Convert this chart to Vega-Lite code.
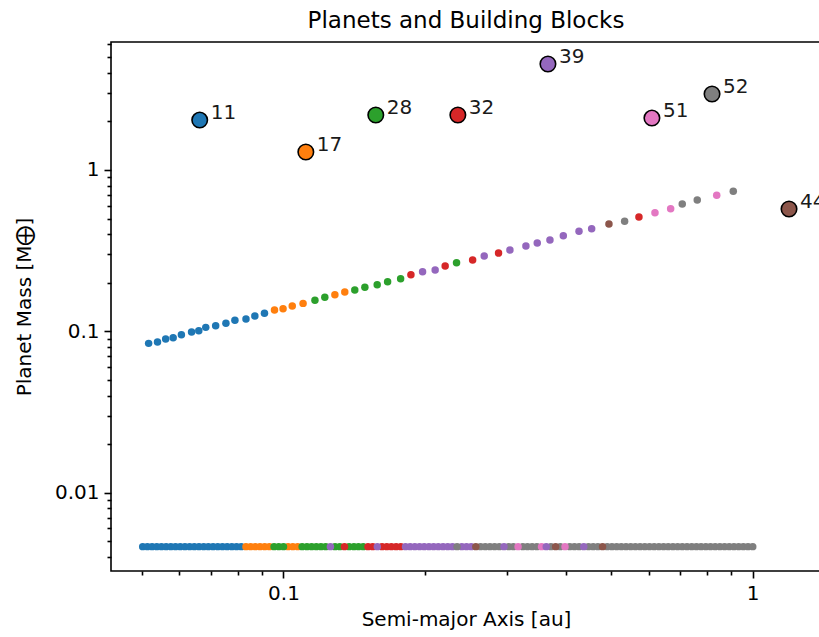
{
  "$schema": "https://vega.github.io/schema/vega-lite/v6.json",
  "autosize": {"type": "none"},
  "padding": {"left": 111, "top": 42, "right": 0, "bottom": 66},
  "width": 710,
  "height": 529,
  "background": "white",
  "title": {"text": "Planets and Building Blocks", "fontSize": 23, "font": "DejaVu Sans", "fontWeight": "normal", "color": "black", "anchor": "middle", "baseline": "alphabetic", "offset": 14, "dy": 31},
  "config": {
    "font": "DejaVu Sans",
    "view": {"stroke": "black", "strokeWidth": 1.6},
    "axis": {"grid": false, "domain": false, "tickColor": "black", "tickWidth": 1.6, "labelColor": "black", "labelFontSize": 20, "labelFont": "DejaVu Sans", "titleFont": "DejaVu Sans", "titleFontSize": 20, "titleFontWeight": "normal", "titleColor": "black", "labelPadding": 5}
  },
  "datasets": {
    "bottom": [
      {"a": 0.05012, "m": 0.00463, "p": "11"}, {"a": 0.05129, "m": 0.00463, "p": "11"}, {"a": 0.05248, "m": 0.00463, "p": "11"}, {"a": 0.0537, "m": 0.00463, "p": "11"}, {"a": 0.05495, "m": 0.00463, "p": "11"}, {"a": 0.05623, "m": 0.00463, "p": "11"}, {"a": 0.05754, "m": 0.00463, "p": "11"}, {"a": 0.05888, "m": 0.00463, "p": "11"}, {"a": 0.06026, "m": 0.00463, "p": "11"}, {"a": 0.06166, "m": 0.00463, "p": "11"}, {"a": 0.0631, "m": 0.00463, "p": "11"}, {"a": 0.06457, "m": 0.00463, "p": "11"}, {"a": 0.06607, "m": 0.00463, "p": "11"}, {"a": 0.06761, "m": 0.00463, "p": "11"}, {"a": 0.06918, "m": 0.00463, "p": "11"}, {"a": 0.07079, "m": 0.00463, "p": "11"}, {"a": 0.07244, "m": 0.00463, "p": "11"}, {"a": 0.07413, "m": 0.00463, "p": "11"}, {"a": 0.07586, "m": 0.00463, "p": "11"}, {"a": 0.07762, "m": 0.00463, "p": "11"}, {"a": 0.07943, "m": 0.00463, "p": "11"}, {"a": 0.08128, "m": 0.00463, "p": "11"},
      {"a": 0.08318, "m": 0.00463, "p": "17"}, {"a": 0.08511, "m": 0.00463, "p": "17"}, {"a": 0.0871, "m": 0.00463, "p": "17"}, {"a": 0.08913, "m": 0.00463, "p": "17"}, {"a": 0.0912, "m": 0.00463, "p": "17"}, {"a": 0.09333, "m": 0.00463, "p": "17"},
      {"a": 0.1023, "m": 0.00463, "p": "17"}, {"a": 0.1047, "m": 0.00463, "p": "17"}, {"a": 0.1072, "m": 0.00463, "p": "17"},
      {"a": 0.1122, "m": 0.00463, "p": "28"}, {"a": 0.1148, "m": 0.00463, "p": "28"}, {"a": 0.1175, "m": 0.00463, "p": "28"}, {"a": 0.1202, "m": 0.00463, "p": "28"}, {"a": 0.123, "m": 0.00463, "p": "28"},
      {"a": 0.1288, "m": 0.00463, "p": "28"}, {"a": 0.1318, "m": 0.00463, "p": "28"},
      {"a": 0.138, "m": 0.00463, "p": "28"}, {"a": 0.1413, "m": 0.00463, "p": "28"}, {"a": 0.1445, "m": 0.00463, "p": "28"}, {"a": 0.1479, "m": 0.00463, "p": "28"},
      {"a": 0.1514, "m": 0.00463, "p": "32"}, {"a": 0.1549, "m": 0.00463, "p": "32"},
      {"a": 0.1622, "m": 0.00463, "p": "32"}, {"a": 0.166, "m": 0.00463, "p": "32"}, {"a": 0.1698, "m": 0.00463, "p": "32"}, {"a": 0.1738, "m": 0.00463, "p": "32"}, {"a": 0.1778, "m": 0.00463, "p": "32"},
      {"a": 0.182, "m": 0.00463, "p": "39"}, {"a": 0.1862, "m": 0.00463, "p": "39"}, {"a": 0.1905, "m": 0.00463, "p": "39"}, {"a": 0.195, "m": 0.00463, "p": "39"}, {"a": 0.1995, "m": 0.00463, "p": "39"}, {"a": 0.2042, "m": 0.00463, "p": "39"}, {"a": 0.2089, "m": 0.00463, "p": "39"}, {"a": 0.2138, "m": 0.00463, "p": "39"}, {"a": 0.2188, "m": 0.00463, "p": "39"}, {"a": 0.2239, "m": 0.00463, "p": "39"}, {"a": 0.2291, "m": 0.00463, "p": "39"},
      {"a": 0.2399, "m": 0.00463, "p": "39"}, {"a": 0.2455, "m": 0.00463, "p": "39"}, {"a": 0.2512, "m": 0.00463, "p": "39"},
      {"a": 0.263, "m": 0.00463, "p": "52"}, {"a": 0.2692, "m": 0.00463, "p": "52"}, {"a": 0.2754, "m": 0.00463, "p": "52"}, {"a": 0.2818, "m": 0.00463, "p": "52"}, {"a": 0.2884, "m": 0.00463, "p": "52"},
      {"a": 0.302, "m": 0.00463, "p": "52"}, {"a": 0.309, "m": 0.00463, "p": "52"},
      {"a": 0.3236, "m": 0.00463, "p": "52"}, {"a": 0.3311, "m": 0.00463, "p": "52"}, {"a": 0.3388, "m": 0.00463, "p": "52"}, {"a": 0.3467, "m": 0.00463, "p": "52"},
      {"a": 0.3715, "m": 0.00463, "p": "52"}, {"a": 0.389, "m": 0.00463, "p": "52"},
      {"a": 0.4074, "m": 0.00463, "p": "52"}, {"a": 0.4169, "m": 0.00463, "p": "52"}, {"a": 0.4266, "m": 0.00463, "p": "52"}, {"a": 0.4467, "m": 0.00463, "p": "52"}, {"a": 0.4571, "m": 0.00463, "p": "52"}, {"a": 0.4677, "m": 0.00463, "p": "52"},
      {"a": 0.4898, "m": 0.00463, "p": "52"}, {"a": 0.5012, "m": 0.00463, "p": "52"}, {"a": 0.5129, "m": 0.00463, "p": "52"}, {"a": 0.5248, "m": 0.00463, "p": "52"}, {"a": 0.537, "m": 0.00463, "p": "52"}, {"a": 0.5495, "m": 0.00463, "p": "52"}, {"a": 0.5623, "m": 0.00463, "p": "52"}, {"a": 0.5754, "m": 0.00463, "p": "52"}, {"a": 0.5888, "m": 0.00463, "p": "52"}, {"a": 0.6026, "m": 0.00463, "p": "52"}, {"a": 0.6166, "m": 0.00463, "p": "52"}, {"a": 0.631, "m": 0.00463, "p": "52"}, {"a": 0.6457, "m": 0.00463, "p": "52"}, {"a": 0.6607, "m": 0.00463, "p": "52"}, {"a": 0.6761, "m": 0.00463, "p": "52"}, {"a": 0.6918, "m": 0.00463, "p": "52"}, {"a": 0.7079, "m": 0.00463, "p": "52"}, {"a": 0.7244, "m": 0.00463, "p": "52"}, {"a": 0.7413, "m": 0.00463, "p": "52"}, {"a": 0.7586, "m": 0.00463, "p": "52"}, {"a": 0.7762, "m": 0.00463, "p": "52"}, {"a": 0.7943, "m": 0.00463, "p": "52"}, {"a": 0.8128, "m": 0.00463, "p": "52"}, {"a": 0.8318, "m": 0.00463, "p": "52"}, {"a": 0.8511, "m": 0.00463, "p": "52"}, {"a": 0.871, "m": 0.00463, "p": "52"}, {"a": 0.8913, "m": 0.00463, "p": "52"}, {"a": 0.912, "m": 0.00463, "p": "52"}, {"a": 0.9333, "m": 0.00463, "p": "52"}, {"a": 0.955, "m": 0.00463, "p": "52"}, {"a": 0.9772, "m": 0.00463, "p": "52"}, {"a": 1.0, "m": 0.00463, "p": "52"},
      {"a": 0.0955, "m": 0.00463, "p": "28"}, {"a": 0.09772, "m": 0.00463, "p": "28"}, {"a": 0.1, "m": 0.00463, "p": "28"}, {"a": 0.1096, "m": 0.00463, "p": "28"},
      {"a": 0.1259, "m": 0.00463, "p": "39"}, {"a": 0.1349, "m": 0.00463, "p": "32"}, {"a": 0.1585, "m": 0.00463, "p": "39"},
      {"a": 0.2344, "m": 0.00463, "p": "52"}, {"a": 0.257, "m": 0.00463, "p": "44"}, {"a": 0.2951, "m": 0.00463, "p": "39"}, {"a": 0.3162, "m": 0.00463, "p": "51"}, {"a": 0.3548, "m": 0.00463, "p": "51"}, {"a": 0.3631, "m": 0.00463, "p": "39"}, {"a": 0.3802, "m": 0.00463, "p": "44"}, {"a": 0.3981, "m": 0.00463, "p": "51"}, {"a": 0.4365, "m": 0.00463, "p": "39"}, {"a": 0.4786, "m": 0.00463, "p": "44"}
    ],
    "line": [
      {"a": 0.0516, "m": 0.0842, "p": "11"}, {"a": 0.0539, "m": 0.0858, "p": "11"}, {"a": 0.0561, "m": 0.0896, "p": "11"}, {"a": 0.0582, "m": 0.0912, "p": "11"}, {"a": 0.0606, "m": 0.0952, "p": "11"}, {"a": 0.0637, "m": 0.099, "p": "11"}, {"a": 0.066, "m": 0.1008, "p": "11"}, {"a": 0.0683, "m": 0.1058, "p": "11"}, {"a": 0.0717, "m": 0.1083, "p": "11"}, {"a": 0.0754, "m": 0.1121, "p": "11"}, {"a": 0.0788, "m": 0.117, "p": "11"}, {"a": 0.0832, "m": 0.1191, "p": "11"}, {"a": 0.0869, "m": 0.1243, "p": "11"}, {"a": 0.0911, "m": 0.1292, "p": "11"},
      {"a": 0.0957, "m": 0.1354, "p": "17"}, {"a": 0.0998, "m": 0.138, "p": "17"}, {"a": 0.1044, "m": 0.1434, "p": "17"}, {"a": 0.1101, "m": 0.149, "p": "17"},
      {"a": 0.1167, "m": 0.1556, "p": "28"}, {"a": 0.1225, "m": 0.1624, "p": "28"},
      {"a": 0.1287, "m": 0.1685, "p": "17"}, {"a": 0.1351, "m": 0.1751, "p": "17"},
      {"a": 0.1419, "m": 0.1803, "p": "28"}, {"a": 0.1491, "m": 0.1873, "p": "28"}, {"a": 0.1584, "m": 0.1944, "p": "28"}, {"a": 0.1667, "m": 0.2029, "p": "28"}, {"a": 0.1777, "m": 0.2118, "p": "28"},
      {"a": 0.1869, "m": 0.2242, "p": "32"}, {"a": 0.1979, "m": 0.234, "p": "39"}, {"a": 0.2105, "m": 0.2397, "p": "39"}, {"a": 0.2211, "m": 0.2538, "p": "32"}, {"a": 0.2338, "m": 0.2661, "p": "28"}, {"a": 0.253, "m": 0.2765, "p": "32"},
      {"a": 0.2678, "m": 0.2927, "p": "39"}, {"a": 0.2873, "m": 0.3055, "p": "32"}, {"a": 0.3038, "m": 0.3189, "p": "39"}, {"a": 0.3286, "m": 0.3377, "p": "39"}, {"a": 0.3474, "m": 0.3525, "p": "39"}, {"a": 0.3697, "m": 0.3679, "p": "39"}, {"a": 0.3948, "m": 0.3912, "p": "39"}, {"a": 0.4264, "m": 0.4165, "p": "39"}, {"a": 0.4537, "m": 0.4322, "p": "39"},
      {"a": 0.4939, "m": 0.4623, "p": "44"}, {"a": 0.5334, "m": 0.4803, "p": "52"}, {"a": 0.5722, "m": 0.5108, "p": "32"}, {"a": 0.619, "m": 0.5431, "p": "51"}, {"a": 0.6685, "m": 0.575, "p": "51"}, {"a": 0.7077, "m": 0.6149, "p": "52"}, {"a": 0.7617, "m": 0.6511, "p": "52"}, {"a": 0.8381, "m": 0.6964, "p": "51"}, {"a": 0.909, "m": 0.7373, "p": "52"}
    ],
    "planets": [
      {"a": 0.0663, "m": 2.039, "p": "11"},
      {"a": 0.1116, "m": 1.292, "p": "17"},
      {"a": 0.1573, "m": 2.19, "p": "28"},
      {"a": 0.2353, "m": 2.19, "p": "32"},
      {"a": 0.3661, "m": 4.535, "p": "39"},
      {"a": 1.195, "m": 0.5727, "p": "44"},
      {"a": 0.6098, "m": 2.098, "p": "51"},
      {"a": 0.819, "m": 2.956, "p": "52"}
    ]
  },
  "encoding": {
    "x": {"field": "a", "type": "quantitative", "title": "Semi-major Axis [au]",
      "scale": {"type": "log", "domain": [0.0429, 1.398], "nice": false},
      "axis": {"values": [0.05, 0.06, 0.07, 0.08, 0.09, 0.1, 0.2, 0.3, 0.4, 0.5, 0.6, 0.7, 0.8, 0.9, 1],
        "labelExpr": "datum.value == 0.1 ? '0.1' : (datum.value == 1 ? '1' : '')",
        "tickSize": {"condition": {"test": "datum.value == 0.1 || datum.value == 1", "value": 7}, "value": 4},
        "labelFlush": false, "labelOverlap": false, "titlePadding": 6}},
    "y": {"field": "m", "type": "quantitative", "title": "Planet Mass [M⨁]",
      "scale": {"type": "log", "domain": [0.00327, 6.21], "nice": false},
      "axis": {"values": [0.004, 0.005, 0.006, 0.007, 0.008, 0.009, 0.01, 0.02, 0.03, 0.04, 0.05, 0.06, 0.07, 0.08, 0.09, 0.1, 0.2, 0.3, 0.4, 0.5, 0.6, 0.7, 0.8, 0.9, 1, 2, 3, 4, 5, 6],
        "labelExpr": "datum.value == 0.01 ? '0.01' : (datum.value == 0.1 ? '0.1' : (datum.value == 1 ? '1' : ''))",
        "tickSize": {"condition": {"test": "datum.value == 0.01 || datum.value == 0.1 || datum.value == 1", "value": 7}, "value": 4},
        "labelFlush": false, "labelOverlap": false, "titlePadding": 20}},
    "color": {"field": "p", "type": "nominal", "legend": null,
      "scale": {"domain": ["11", "17", "28", "32", "39", "44", "51", "52"], "range": ["#1f77b4", "#ff7f0e", "#2ca02c", "#d62728", "#9467bd", "#8c564b", "#e377c2", "#7f7f7f"]}}
  },
  "layer": [
    {"data": {"name": "bottom"}, "mark": {"type": "point", "shape": "circle", "filled": true, "opacity": 1, "size": 56, "strokeWidth": 0}},
    {"data": {"name": "line"}, "mark": {"type": "point", "shape": "circle", "filled": true, "opacity": 1, "size": 56, "strokeWidth": 0}},
    {"data": {"name": "planets"}, "mark": {"type": "point", "shape": "circle", "filled": true, "opacity": 1, "size": 240, "stroke": "black", "strokeWidth": 1.6}},
    {"data": {"name": "planets"}, "mark": {"type": "text", "align": "left", "baseline": "alphabetic", "dx": 11, "dy": -1, "fontSize": 20, "color": "black"}, "encoding": {"text": {"field": "p"}, "color": {"value": "#1a1a1a"}}}
  ]
}
